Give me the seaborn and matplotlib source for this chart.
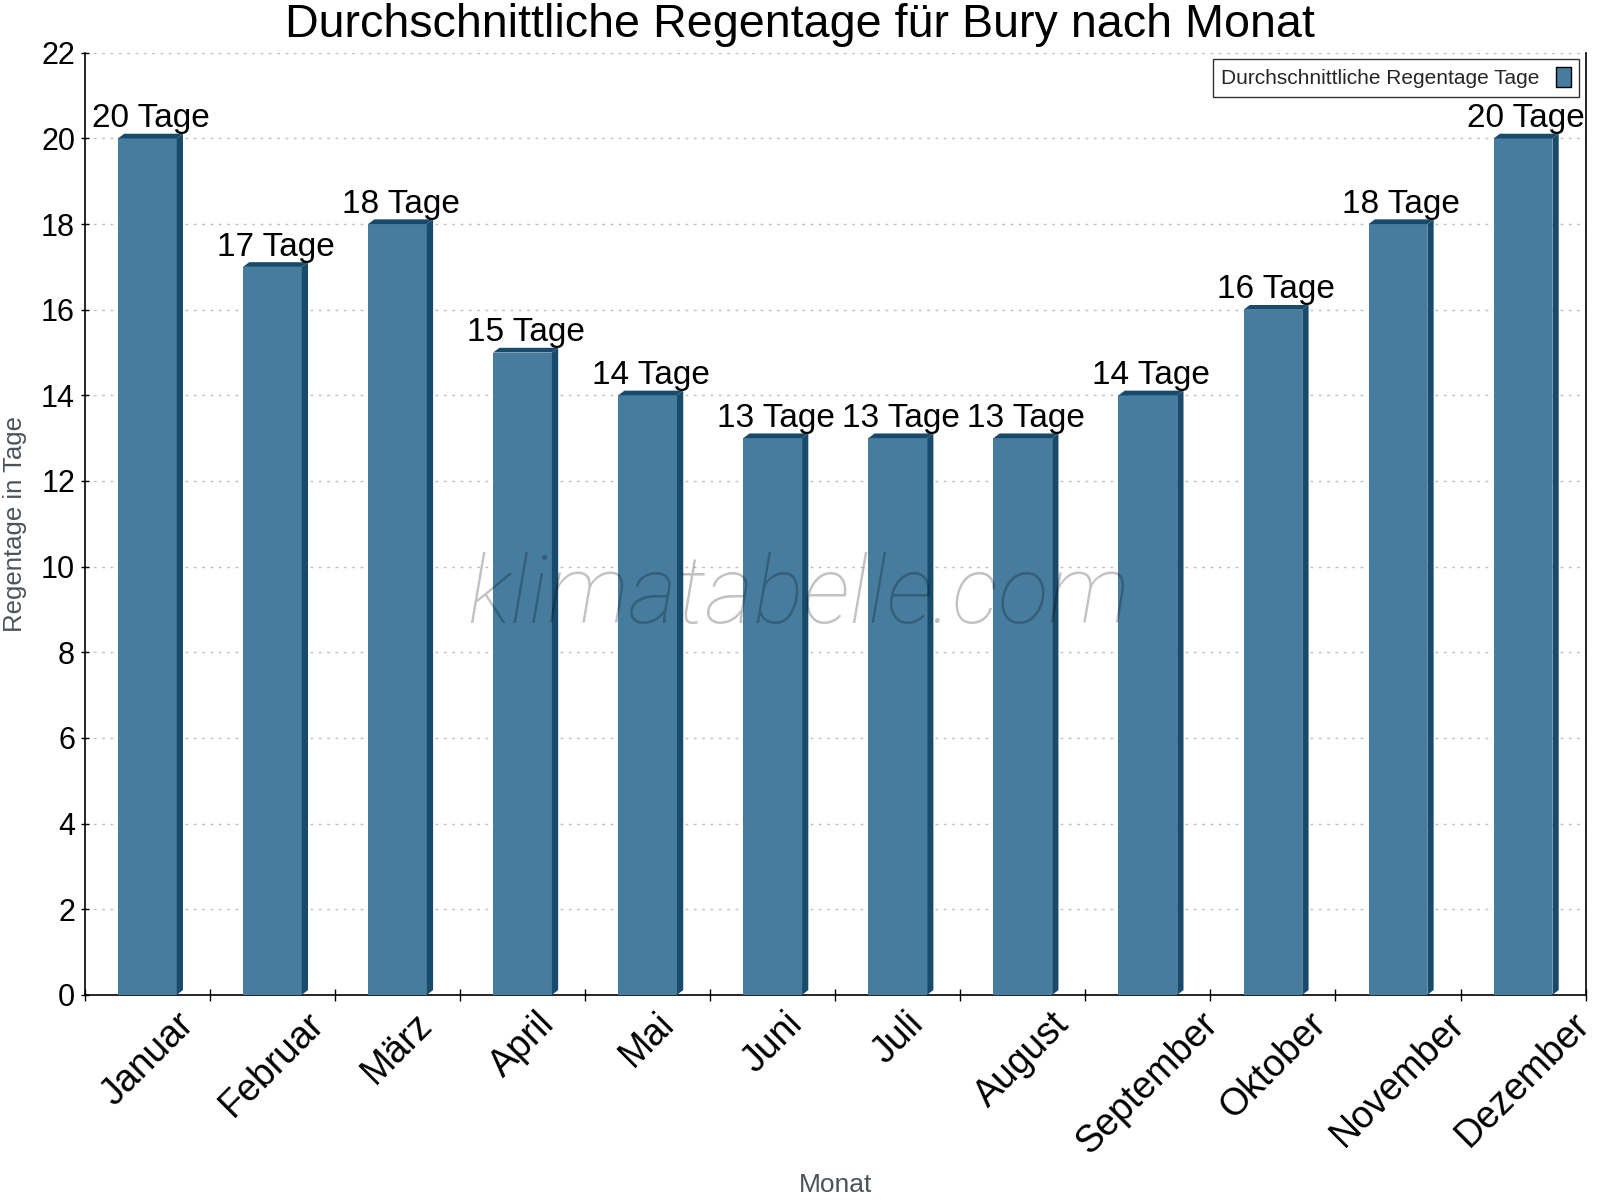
import matplotlib
matplotlib.use("Agg")
import matplotlib.pyplot as plt
import seaborn as sns
import pandas as pd
from matplotlib.patches import Polygon, Patch

# --- Data ---
monate = ["Januar", "Februar", "März", "April", "Mai", "Juni", "Juli",
          "August", "September", "Oktober", "November", "Dezember"]
regentage = [20, 17, 18, 15, 14, 13, 13, 13, 14, 16, 18, 20]
einheit = "Tage"

df = pd.DataFrame({"Monat": monate, "Regentage": regentage})

sns.set_theme(style="white")
plt.rcParams['font.family'] = ['Liberation Sans', 'DejaVu Sans']

face = "#467C9D"
dark = "#184A6C"

fig = plt.figure(figsize=(16, 12), dpi=100)
ax = fig.add_axes([0.053, 0.171, 0.938, 0.785])

sns.barplot(data=df, x="Monat", y="Regentage", color=face, width=0.47,
            saturation=1, ax=ax, zorder=3, linewidth=0)

# 3D side and top for each bar
dx, dy = 0.05, 0.11
for p in ax.patches:
    x0 = p.get_x()
    x1 = x0 + p.get_width()
    h = p.get_height()
    side = Polygon([(x1, 0), (x1 + dx, dy), (x1 + dx, h + dy), (x1, h)],
                   closed=True, facecolor=dark, edgecolor="none", zorder=3)
    top = Polygon([(x0, h), (x0 + dx, h + dy), (x1 + dx, h + dy), (x1, h)],
                  closed=True, facecolor=dark, edgecolor="none", zorder=3)
    ax.add_patch(side)
    ax.add_patch(top)
    ax.text(x0 + p.get_width() / 2 + dx / 2, h + 0.1, f"{int(h)} {einheit}",
            ha="center", va="bottom", fontsize=24, color="black", zorder=5)

ax.set_xlim(-0.5, len(monate) - 0.5)
ax.set_ylim(0, 22)
ax.set_yticks(range(0, 23, 2))
ax.tick_params(axis="y", labelsize=22, labelcolor="black", direction="inout",
               length=6, width=1, color="black", left=True, pad=4)

# ticks at category boundaries, labels at category centers
ax.set_xticks([i - 0.5 for i in range(len(monate) + 1)])
ax.set_xticklabels([])
ax.set_xticks(range(len(monate)), minor=True)
ax.set_xticklabels(monate, minor=True, rotation=45, ha="center", va="top",
                   fontsize=27, color="black")
ax.tick_params(axis="x", which="major", direction="inout", length=8,
               width=1, color="black", bottom=True)
ax.tick_params(axis="x", which="minor", length=0, pad=8)

ax.grid(axis="y", color="#c0c0c0", linestyle=(0, (2, 4)), linewidth=1,
        zorder=0)
ax.set_axisbelow(True)

for s in ["left", "bottom", "right"]:
    ax.spines[s].set_visible(True)
    ax.spines[s].set_color("black")
    ax.spines[s].set_linewidth(1.2)
ax.spines["top"].set_visible(False)

fig.text(0.5, 0.979, "Durchschnittliche Regentage für Bury nach Monat",
         fontsize=33.6, color="black", ha="center", va="center")
ax.set_ylabel("Regentage in Tage", fontsize=18.5, color="#4d5358", labelpad=10)
ax.set_xlabel("Monat", fontsize=19, color="#4d5358", va="top")
ax.xaxis.set_label_coords(0.5, -0.189)

handle = Patch(facecolor=face, edgecolor="black", linewidth=1)
leg = ax.legend([handle], ["Durchschnittliche Regentage Tage"],
                loc="upper right", fontsize=15, markerfirst=False,
                fancybox=False, frameon=True, edgecolor="black",
                handlelength=0.7, handleheight=1.1, borderaxespad=0.3,
                borderpad=0.4)
leg.get_frame().set_linewidth(1)

fig.text(0.499, 0.5025, "klimatabelle.com", fontsize=67.5, style="italic",
         family=["Roboto", "Liberation Sans"], fontweight="light",
         color="black", alpha=0.24, ha="center", va="center", zorder=10)

fig.savefig("out.png", dpi=100)
